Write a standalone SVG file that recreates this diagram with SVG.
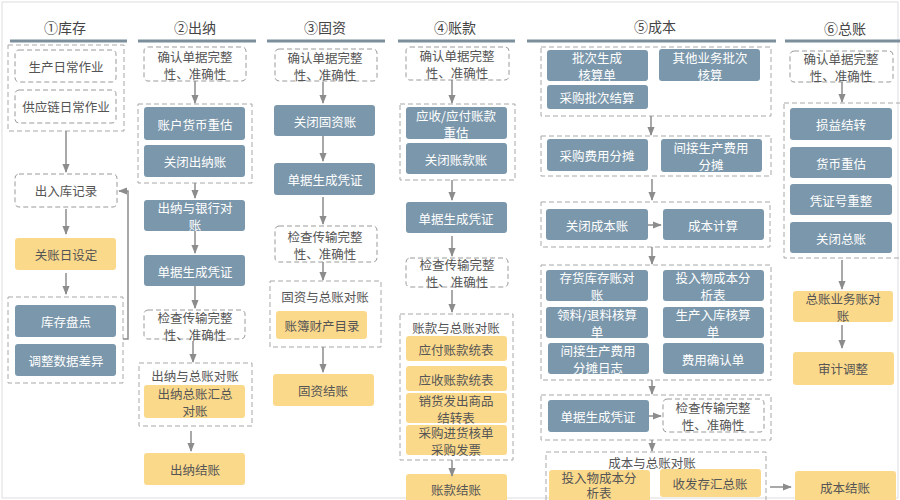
<svg xmlns="http://www.w3.org/2000/svg" width="900" height="500" viewBox="0 0 900 500">
<defs>
<marker id="ah" viewBox="0 0 10 10" refX="9" refY="5" markerWidth="6" markerHeight="6" orient="auto"><path d="M0,1 L10,5 L0,9 z" fill="#8c8c8c"/></marker>
<style>
text{font-family:"Noto Sans CJK SC","Liberation Sans",sans-serif;font-size:12.5px;text-anchor:middle;dominant-baseline:central}
.b rect{fill:#7b97ab;rx:3}
.b text{fill:#ffffff}
.y rect{fill:#fbd98b;rx:3}
.y text{fill:#555}
.d rect{fill:#fff;stroke:#9a9a9a;stroke-dasharray:5 3;rx:4}
.d text{fill:#555}
.g{fill:none;stroke:#a8a8a8;stroke-dasharray:5 3}
.h{font-size:14px;fill:#444}
.u{stroke:#7b909c;stroke-width:3}
#conn path{fill:none;stroke:#8c8c8c;stroke-width:1.5;marker-end:url(#ah)}
</style>
</defs>
<rect x="0" y="0" width="900" height="500" fill="#fff"/>
<rect x="2" y="2" width="896" height="496" fill="none" stroke="#ddd"/>
<g id="headers">
<text class="h" x="65" y="27">①库存</text><line class="u" x1="10" y1="41" x2="127" y2="41"/>
<text class="h" x="195" y="27">②出纳</text><line class="u" x1="138" y1="41" x2="256" y2="41"/>
<text class="h" x="325" y="27">③固资</text><line class="u" x1="267" y1="41" x2="385" y2="41"/>
<text class="h" x="455" y="27">④账款</text><line class="u" x1="398" y1="41" x2="515" y2="41"/>
<text class="h" x="655" y="26">⑤成本</text><line class="u" x1="527" y1="41" x2="776" y2="41"/>
<text class="h" x="845" y="28">⑥总账</text><line class="u" x1="785" y1="41" x2="900" y2="41"/>
</g>
<g id="groups">
<rect class="g" x="8" y="45" width="116" height="86"/>
<rect class="g" x="8" y="297" width="115" height="86"/>
<rect class="g" x="138" y="104" width="114" height="79"/>
<rect class="g" x="139" y="363" width="113" height="63"/><text x="195" y="375" fill="#555">出纳与总账对账</text>
<rect class="g" x="270" y="281" width="111" height="66"/><text x="325" y="296" fill="#555">固资与总账对账</text>
<rect class="g" x="400" y="104" width="115" height="76"/>
<rect class="g" x="400" y="314" width="113" height="146"/><text x="456" y="327" fill="#555">账款与总账对账</text>
<rect class="g" x="541" y="47" width="230" height="69"/>
<rect class="g" x="541" y="136" width="230" height="40"/>
<rect class="g" x="541" y="202" width="229" height="45"/>
<rect class="g" x="541" y="265" width="230" height="115"/>
<rect class="g" x="541" y="395" width="230" height="45"/>
<rect class="g" x="546" y="452" width="220" height="52"/><text x="652" y="462" fill="#555">成本与总账对账</text>
<rect class="g" x="784" y="103" width="120" height="155"/>
</g>
<g id="n1a" class="d"><rect x="15" y="50" width="101" height="32"/><text x="66" y="66">生产日常作业</text></g>
<g id="n1b" class="d"><rect x="15" y="90" width="101" height="33"/><text x="66" y="106">供应链日常作业</text></g>
<g id="n1c" class="d"><rect x="15" y="174" width="102" height="33"/><text x="66" y="190">出入库记录</text></g>
<g id="n1d" class="y"><rect x="15" y="238" width="101" height="32"/><text x="66" y="254">关账日设定</text></g>
<g id="n1e" class="b"><rect x="15" y="305" width="101" height="32"/><text x="66" y="321">库存盘点</text></g>
<g id="n1f" class="b"><rect x="15" y="344" width="101" height="32"/><text x="66" y="360">调整数据差异</text></g>

<g id="n2a" class="d"><rect x="144" y="47" width="102" height="34"/><text x="195" y="56">确认单据完整<tspan x="195" y="73">性、准确性</tspan></text></g>
<g id="n2b" class="b"><rect x="144" y="107" width="101" height="33"/><text x="195" y="124">账户货币重估</text></g>
<g id="n2c" class="b"><rect x="144" y="145" width="101" height="32"/><text x="195" y="161">关闭出纳账</text></g>
<g id="n2d" class="b"><rect x="144" y="200" width="101" height="31"/><text x="195" y="207">出纳与银行对<tspan x="195" y="224">账</tspan></text></g>
<g id="n2e" class="b"><rect x="144" y="255" width="101" height="31"/><text x="195" y="271">单据生成凭证</text></g>
<g id="n2f" class="d"><rect x="144" y="310" width="101" height="29"/><text x="195" y="317">检查传输完整<tspan x="195" y="334">性、准确性</tspan></text></g>
<g id="n2g" class="y"><rect x="144" y="385" width="101" height="33"/><text x="195" y="393">出纳总账汇总<tspan x="195" y="410">对账</tspan></text></g>
<g id="n2h" class="y"><rect x="144" y="453" width="101" height="32"/><text x="195" y="469">出纳结账</text></g>

<g id="n3a" class="d"><rect x="275" y="49" width="102" height="32"/><text x="325" y="57">确认单据完整<tspan x="325" y="74">性、准确性</tspan></text></g>
<g id="n3b" class="b"><rect x="274" y="105" width="101" height="31"/><text x="325" y="121">关闭固资账</text></g>
<g id="n3c" class="b"><rect x="274" y="163" width="101" height="32"/><text x="325" y="179">单据生成凭证</text></g>
<g id="n3d" class="d"><rect x="275" y="226" width="102" height="36"/><text x="325" y="236">检查传输完整<tspan x="325" y="253">性、准确性</tspan></text></g>
<g id="n3e" class="y"><rect x="276" y="311" width="91" height="28"/><text x="322" y="325">账簿财产目录</text></g>
<g id="n3f" class="y"><rect x="273" y="374" width="101" height="32"/><text x="323" y="390">固资结账</text></g>

<g id="n4a" class="d"><rect x="406" y="47" width="103" height="33"/><text x="457" y="55">确认单据完整<tspan x="457" y="72">性、准确性</tspan></text></g>
<g id="n4b" class="b"><rect x="406" y="107" width="101" height="32"/><text x="456" y="115">应收/应付账款<tspan x="456" y="132">重估</tspan></text></g>
<g id="n4c" class="b"><rect x="406" y="143" width="101" height="31"/><text x="456" y="159">关闭账款账</text></g>
<g id="n4d" class="b"><rect x="406" y="202" width="101" height="31"/><text x="456" y="218">单据生成凭证</text></g>
<g id="n4e" class="d"><rect x="406" y="258" width="102" height="29"/><text x="457" y="264">检查传输完整<tspan x="457" y="281">性、准确性</tspan></text></g>
<g id="n4f" class="y"><rect x="406" y="336" width="101" height="25"/><text x="456" y="349">应付账款统表</text></g>
<g id="n4g" class="y"><rect x="406" y="366" width="101" height="25"/><text x="456" y="379">应收账款统表</text></g>
<g id="n4h" class="y"><rect x="406" y="393" width="101" height="30"/><text x="456" y="400">销货发出商品<tspan x="456" y="417">结转表</tspan></text></g>
<g id="n4i" class="y"><rect x="406" y="425" width="101" height="30"/><text x="456" y="432">采购进货核单<tspan x="456" y="449">采购发票</tspan></text></g>
<g id="n4j" class="y"><rect x="406" y="474" width="101" height="30"/><text x="456" y="489">账款结账</text></g>

<g id="n5a" class="b"><rect x="547" y="50" width="101" height="31"/><text x="597" y="57">批次生成<tspan x="597" y="74">核算单</tspan></text></g>
<g id="n5b" class="b"><rect x="659" y="49" width="101" height="32"/><text x="710" y="57">其他业务批次<tspan x="710" y="74">核算</tspan></text></g>
<g id="n5c" class="b"><rect x="547" y="85" width="101" height="24"/><text x="597" y="97">采购批次结算</text></g>
<g id="n5d" class="b"><rect x="547" y="139" width="101" height="32"/><text x="597" y="155">采购费用分摊</text></g>
<g id="n5e" class="b"><rect x="661" y="139" width="101" height="33"/><text x="711" y="147">间接生产费用<tspan x="711" y="164">分摊</tspan></text></g>
<g id="n5f" class="b"><rect x="546" y="209" width="102" height="31"/><text x="597" y="225">关闭成本账</text></g>
<g id="n5g" class="b"><rect x="663" y="209" width="101" height="31"/><text x="713" y="225">成本计算</text></g>
<g id="n5h" class="b"><rect x="546" y="270" width="102" height="31"/><text x="597" y="277">存货库存账对<tspan x="597" y="294">账</tspan></text></g>
<g id="n5i" class="b"><rect x="663" y="270" width="101" height="31"/><text x="713" y="277">投入物成本分<tspan x="713" y="294">析表</tspan></text></g>
<g id="n5j" class="b"><rect x="546" y="307" width="102" height="31"/><text x="597" y="314">领料/退料核算<tspan x="597" y="331">单</tspan></text></g>
<g id="n5k" class="b"><rect x="663" y="307" width="101" height="31"/><text x="713" y="314">生产入库核算<tspan x="713" y="331">单</tspan></text></g>
<g id="n5l" class="b"><rect x="548" y="343" width="101" height="31"/><text x="598" y="350">间接生产费用<tspan x="598" y="367">分摊日志</tspan></text></g>
<g id="n5m" class="b"><rect x="663" y="343" width="101" height="31"/><text x="713" y="359">费用确认单</text></g>
<g id="n5n" class="b"><rect x="548" y="400" width="101" height="32"/><text x="598" y="416">单据生成凭证</text></g>
<g id="n5o" class="d"><rect x="663" y="399" width="101" height="33"/><text x="713" y="407">检查传输完整<tspan x="713" y="424">性、准确性</tspan></text></g>
<g id="n5p" class="y"><rect x="549" y="470" width="101" height="34"/><text x="599" y="477">投入物成本分<tspan x="599" y="492">析表</tspan></text></g>
<g id="n5q" class="y"><rect x="660" y="469" width="101" height="28"/><text x="710" y="483">收发存汇总账</text></g>
<g id="n5r" class="y"><rect x="795" y="471" width="101" height="33"/><text x="845" y="487">成本结账</text></g>

<g id="n6a" class="d"><rect x="790" y="51" width="103" height="31"/><text x="841" y="58">确认单据完整<tspan x="841" y="75">性、准确性</tspan></text></g>
<g id="n6b" class="b"><rect x="790" y="108" width="102" height="32"/><text x="841" y="124">损益结转</text></g>
<g id="n6c" class="b"><rect x="790" y="147" width="102" height="31"/><text x="841" y="163">货币重估</text></g>
<g id="n6d" class="b"><rect x="790" y="184" width="102" height="31"/><text x="841" y="200">凭证号重整</text></g>
<g id="n6e" class="b"><rect x="790" y="222" width="102" height="31"/><text x="841" y="238">关闭总账</text></g>
<g id="n6f" class="y"><rect x="793" y="291" width="100" height="31"/><text x="843" y="298">总账业务账对<tspan x="843" y="315">账</tspan></text></g>
<g id="n6g" class="y"><rect x="793" y="352" width="101" height="33"/><text x="843" y="368">审计调整</text></g>

<g id="conn">
<path d="M66,131 V172"/><path d="M66,209 V234"/><path d="M66,273 V294"/>
<path d="M123,339 H128 V191 H119"/>
<path d="M195,81 V103"/><path d="M195,183 V198"/><path d="M195,231 V253"/><path d="M195,286 V308"/><path d="M193,341 V362"/><path d="M191,431 V451"/>
<path d="M323,82 V103"/><path d="M323,136 V161"/><path d="M323,197 V224"/><path d="M323,262 V280"/><path d="M323,347 V372"/>
<path d="M452,80 V103"/><path d="M452,180 V200"/><path d="M452,236 V256"/><path d="M452,290 V312"/><path d="M452,460 V476"/>
<path d="M651,116 V135"/><path d="M652,179 V200"/><path d="M648,225 H661"/><path d="M652,247 V264"/><path d="M652,380 V394"/><path d="M649,416 H661"/><path d="M652,440 V451"/><path d="M770,487 H791"/>
<path d="M842,82 V102"/><path d="M842,260 V289"/><path d="M842,325 V348"/>
</g>
</svg>
